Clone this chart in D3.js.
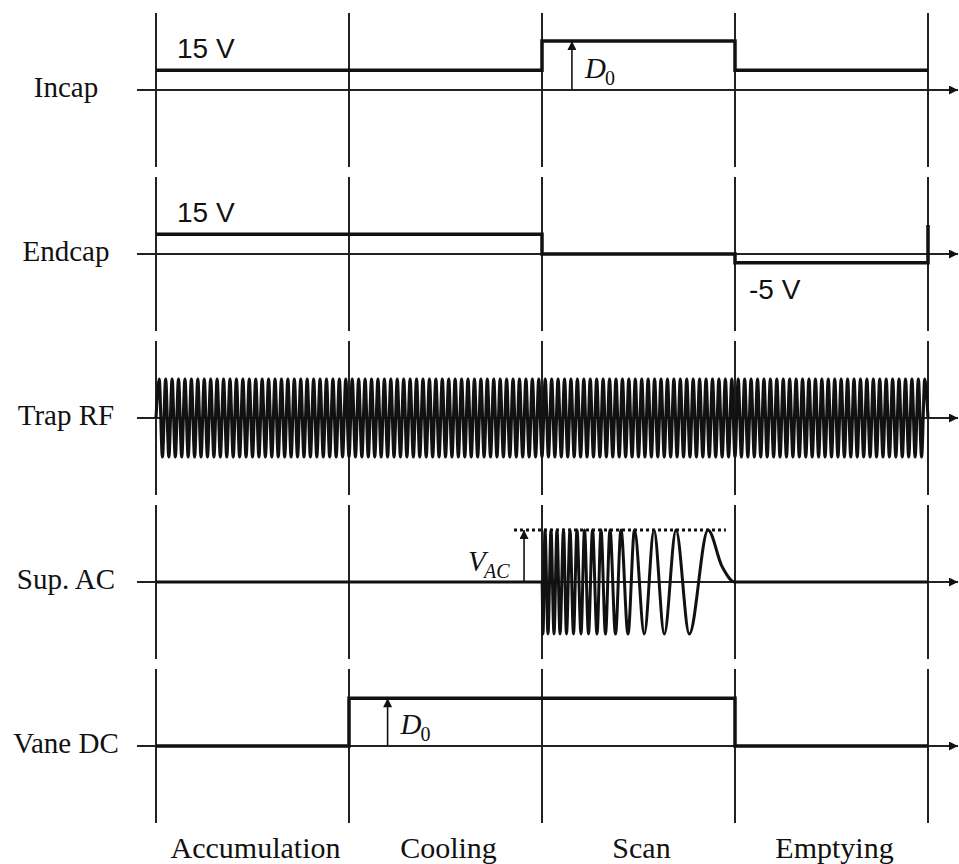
<!DOCTYPE html>
<html>
<head>
<meta charset="utf-8">
<script src="https://cdn.jsdelivr.net/npm/d3@7"></script>
<style>
  html, body { margin: 0; padding: 0; background: #fff; }
  svg { display: block; }
</style>
</head>
<body>
<div id="chart"></div>
<script>
// ---------------- DATA ----------------
const phases = ["Accumulation", "Cooling", "Scan", "Emptying"];
const phaseBounds = [0, 1, 2, 3, 4];
const rows = ["Incap", "Endcap", "Trap RF", "Sup. AC", "Vane DC"];

// step signals: [time (phase units), level (relative units, 1 = full AC amplitude)]
const incapSignal = [[0, 0.38], [2, 0.94], [3, 0.38], [4, 0.38]];
const endcapSignal = [[0, 0.38], [2, 0], [3, -0.17], [4, -0.17], [4, 0.56]];
const vaneSignal = [[0, 0], [1, 0.92], [3, 0], [4, 0]];

// trap RF carrier
const rfCycles = 120;
const rfAmplitude = 0.75;

// supplementary AC chirp extrema (time, level) during the scan phase
const supAcSignal = [
  [0, 0], [2, 0],
  [2.0052, -1], [2.0155, 1], [2.0311, -1], [2.0466, 1], [2.0622, -1],
  [2.0777, 1], [2.0933, -1], [2.1114, 1], [2.1269, -1], [2.1451, 1],
  [2.1632, -1], [2.1813, 1], [2.2021, -1], [2.2202, 1], [2.2409, -1],
  [2.2617, 1], [2.2850, -1], [2.3057, 1], [2.3290, -1], [2.3523, 1],
  [2.3808, -1], [2.4093, 1], [2.4456, -1], [2.4793, 1], [2.5301, -1],
  [2.5803, 1], [2.6337, -1], [2.6943, 1], [2.7632, -1], [2.8601, 1],
  [2.9326, 0.3], [3, 0], [4, 0]
];
const vacLevel = 1;
const vacLine = [1.855, 2.953];

// annotations
const voltLabels = [
  { row: "Incap", t: 0, text: "15 V", pos: "above" },
  { row: "Endcap", t: 0, text: "15 V", pos: "above" },
  { row: "Endcap", t: 3, text: "-5 V", pos: "below" }
];
const d0Arrows = [
  { row: "Incap", t: 2.155, level: 0.94 },
  { row: "Vane DC", t: 1.2, level: 0.92 }
];
const vacArrow = { row: "Sup. AC", t: 1.907, level: 1 };

// ---------------- CHART ----------------
const W = 959, H = 864;
const svg = d3.select("#chart").append("svg")
  .attr("width", W).attr("height", H)
  .attr("viewBox", [0, 0, W, H]);

const x = d3.scaleLinear().domain([0, 4]).range([156, 928]);
const yRow = d3.scalePoint().domain(rows).range([90, 746]);
const amp = d3.scaleLinear().domain([-1, 1]).range([52, -52]);
const Y = (row, v) => yRow(row) + amp(v);

const serif = "'Liberation Serif', 'Times New Roman', Times, serif";
const sans = "'Liberation Sans', Arial, Helvetica, sans-serif";
const ink = "#111";

// arrow markers
const defs = svg.append("defs");
defs.append("marker")
  .attr("id", "axisArrow").attr("viewBox", "0 0 10 10")
  .attr("refX", 10).attr("refY", 5)
  .attr("markerWidth", 9).attr("markerHeight", 9)
  .attr("markerUnits", "userSpaceOnUse")
  .attr("orient", "auto")
  .append("path").attr("d", "M0,0 L10,5 L0,10 Z").attr("fill", ink);
defs.append("marker")
  .attr("id", "upArrow").attr("viewBox", "0 0 10 10")
  .attr("refX", 10).attr("refY", 5)
  .attr("markerWidth", 11).attr("markerHeight", 9)
  .attr("markerUnits", "userSpaceOnUse")
  .attr("orient", "auto")
  .append("path").attr("d", "M0,0 L10,5 L0,10 Z").attr("fill", ink);

// phase boundary lines (one segment per row)
const gV = svg.append("g");
rows.forEach(r => {
  phaseBounds.forEach(t => {
    gV.append("line")
      .attr("x1", x(t)).attr("x2", x(t))
      .attr("y1", yRow(r) - 77).attr("y2", yRow(r) + 77)
      .attr("stroke", "#222").attr("stroke-width", 2);
  });
});

// row axes
rows.forEach(r => {
  svg.append("line")
    .attr("x1", 137).attr("x2", 958)
    .attr("y1", yRow(r)).attr("y2", yRow(r))
    .attr("stroke", "#222").attr("stroke-width", 2)
    .attr("marker-end", "url(#axisArrow)");
  svg.append("text")
    .attr("x", 66).attr("y", yRow(r) + 7)
    .attr("text-anchor", "middle")
    .attr("font-family", serif).attr("font-size", 29)
    .attr("fill", ink)
    .text(r);
});

// step signals
const stepLine = row => d3.line()
  .x(d => x(d[0])).y(d => Y(row, d[1]))
  .curve(d3.curveStepAfter);
[["Incap", incapSignal], ["Endcap", endcapSignal], ["Vane DC", vaneSignal]].forEach(([r, data]) => {
  svg.append("path").datum(data)
    .attr("d", stepLine(r))
    .attr("fill", "none").attr("stroke", ink)
    .attr("stroke-width", 3.5).attr("stroke-linejoin", "miter");
});

// trap RF
const rfPoints = [[0, 0]].concat(
  d3.range(1, rfCycles * 2).map(i => [i * 4 / (rfCycles * 2), (i % 2 ? rfAmplitude : -rfAmplitude)]),
  [[4, 0]]
);
svg.append("path").datum(rfPoints)
  .attr("d", d3.line().x(d => x(d[0])).y(d => Y("Trap RF", d[1])).curve(d3.curveMonotoneX))
  .attr("fill", "none").attr("stroke", ink).attr("stroke-width", 3.1);

// sup AC chirp
svg.append("path").datum(supAcSignal)
  .attr("d", d3.line().x(d => x(d[0])).y(d => Y("Sup. AC", d[1])).curve(d3.curveMonotoneX))
  .attr("fill", "none").attr("stroke", ink).attr("stroke-width", 3);

// V_AC dotted level
svg.append("line")
  .attr("x1", x(vacLine[0])).attr("x2", x(vacLine[1]))
  .attr("y1", Y("Sup. AC", vacLevel)).attr("y2", Y("Sup. AC", vacLevel))
  .attr("stroke", ink).attr("stroke-width", 3)
  .attr("stroke-dasharray", "3,3");

// up arrows
function upArrow(a) {
  svg.append("line")
    .attr("x1", x(a.t)).attr("x2", x(a.t))
    .attr("y1", yRow(a.row)).attr("y2", Y(a.row, a.level))
    .attr("stroke", ink).attr("stroke-width", 1.6)
    .attr("marker-end", "url(#upArrow)");
}
d0Arrows.forEach(a => {
  upArrow(a);
  const bx = x(a.t) + 13, by = yRow(a.row) - 12;
  svg.append("text").attr("x", bx).attr("y", by)
    .attr("font-family", serif).attr("font-style", "italic").attr("font-size", 29)
    .attr("fill", ink).text("D");
  svg.append("text").attr("x", bx + 20).attr("y", by + 7)
    .attr("font-family", serif).attr("font-size", 20)
    .attr("fill", ink).text("0");
});
upArrow(vacArrow);
{
  const ax = x(vacArrow.t), by = yRow(vacArrow.row);
  svg.append("text").attr("x", ax - 56).attr("y", by - 11)
    .attr("font-family", serif).attr("font-style", "italic").attr("font-size", 29)
    .attr("fill", ink).text("V");
  svg.append("text").attr("x", ax - 40).attr("y", by - 4)
    .attr("font-family", serif).attr("font-style", "italic").attr("font-size", 20)
    .attr("fill", ink).text("AC");
}

// voltage labels
voltLabels.forEach(l => {
  svg.append("text")
    .attr("x", x(l.t) + (l.pos === "above" ? 21 : 14))
    .attr("y", yRow(l.row) + (l.pos === "above" ? -32 : 45))
    .attr("font-family", sans).attr("font-size", 28)
    .attr("fill", ink).text(l.text);
});

// phase labels
phases.forEach((p, i) => {
  svg.append("text")
    .attr("x", (x(phaseBounds[i]) + x(phaseBounds[i + 1])) / 2 + 3)
    .attr("y", 858)
    .attr("text-anchor", "middle")
    .attr("font-family", serif).attr("font-size", 30)
    .attr("fill", ink).text(p);
});
</script>
</body>
</html>
